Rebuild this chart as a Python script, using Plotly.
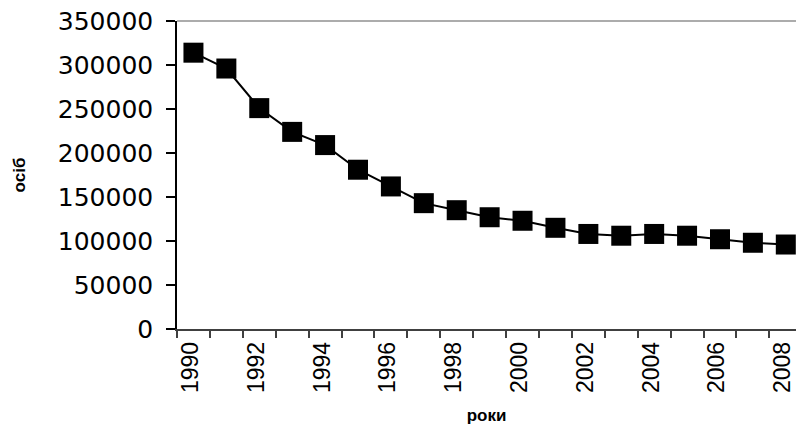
import plotly.graph_objects as go

years = list(range(1990, 2009))
persons = [314000, 296000, 251000, 224000, 209000, 181000, 162000, 143000, 135000,
           127000, 123000, 115000, 108000, 106000, 108000, 106000, 102000, 98000, 96000]
year_labels = [1990, 1992, 1994, 1996, 1998, 2000, 2002, 2004, 2006, 2008]
y_ticks = [0, 50000, 100000, 150000, 200000, 250000, 300000, 350000]

fig = go.Figure()
fig.add_trace(go.Scatter(
    x=years, y=persons, mode="lines+markers",
    line=dict(color="black", width=2),
    marker=dict(symbol="square", size=20, color="black"),
    showlegend=False,
))

fig.update_layout(
    width=796, height=429,
    margin=dict(l=177, r=0, t=21, b=100),
    paper_bgcolor="white", plot_bgcolor="white",
    font=dict(family="Liberation Sans, Arial", color="black"),
)

fig.update_xaxes(
    range=[1989.5, 2008.31], automargin=False,
    tickmode="array", tickvals=year_labels, ticktext=[str(y) for y in year_labels],
    tickangle=-90, tickfont=dict(size=23), ticklabeloverflow="allow",
    ticklabelshift=-3,
    ticks="", ticklabelstandoff=2, showgrid=False, zeroline=False,
    showline=True, linecolor="#404040", linewidth=1.5,
    minor=dict(ticks="outside", tick0=1989.5, dtick=1, ticklen=7,
               tickcolor="#404040", tickwidth=1.5, showgrid=False),
    title=dict(text="<b>роки</b>", font=dict(size=17), standoff=17),
)
fig.update_yaxes(
    range=[0, 350000], automargin=False,
    tickmode="array", tickvals=y_ticks, ticktext=[str(v) for v in y_ticks],
    tickfont=dict(family="DejaVu Sans", size=25),
    ticks="outside", ticklen=9, tickcolor="black", tickwidth=1.5,
    ticklabelstandoff=8,
    showgrid=False, zeroline=False,
    showline=True, linecolor="black", linewidth=1.5,
    title=dict(text="<b>осіб</b>", font=dict(size=17), standoff=28),
)

# thin grey border along the top of the plot area
fig.add_shape(type="line", xref="paper", yref="paper", x0=0, x1=1, y0=1, y1=1,
              line=dict(color="#909090", width=1.5))

fig.write_html("out.html", config={"displayModeBar": False},
               post_script="document.body.style.margin='0px';")
